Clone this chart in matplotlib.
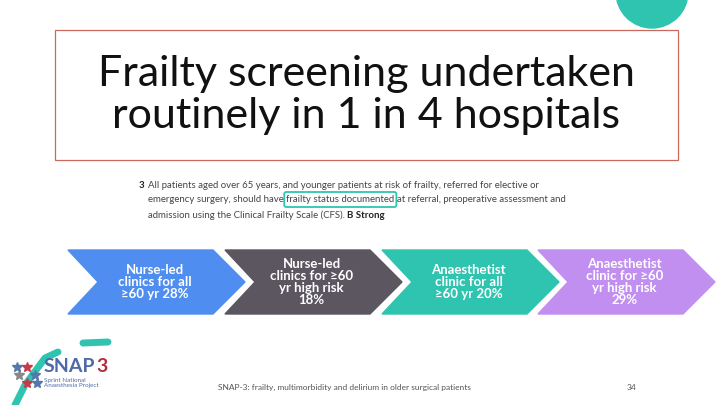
import matplotlib
matplotlib.use("Agg")
import matplotlib.pyplot as plt
from matplotlib.patches import Polygon, Rectangle, Circle, FancyBboxPatch

labels = ["Nurse-led\nclinics for all\n≥60 yr", "Nurse-led\nclinics for ≥60\nyr high risk\n", "Anaesthetist\nclinic for all\n≥60 yr", "Anaesthetist\nclinic for ≥60\nyr high risk\n"]
values = [28, 18, 20, 29]
colors = ["#4f8ef0", "#5b5660", "#2fc4b0", "#c18ff0"]
starts = [68, 225, 382, 538]

fig = plt.figure(figsize=(7.2, 4.05), dpi=100)
ax = fig.add_axes([0, 0, 1, 1])
ax.set_xlim(0, 720); ax.set_ylim(405, 0); ax.axis("off")
r = fig.canvas.get_renderer()

def right_of(t):
    bb = t.get_window_extent(r)
    return bb.x1

ax.add_patch(Circle((652, -8), 36, color="#2fc4b0", zorder=1))
ax.add_patch(Rectangle((55, 30), 623, 130, fill=False, edgecolor="#c96a5c", lw=0.9))
ax.text(366, 95, "Frailty screening undertaken\nroutinely in 1 in 4 hospitals", ha="center", va="center",
        fontsize=31, family="Lato", color="#111111", linespacing=1.15)

fs = 6.9
qf = dict(fontsize=fs, family="Lato", color="#444444", va="center")
ax.text(139, 185, "3", fontsize=fs, family="Lato", color="#222222", va="center", weight="bold")
ax.text(148, 185, "All patients aged over 65 years, and younger patients at risk of frailty, referred for elective or", **qf)
t1 = ax.text(148, 200, "emergency surgery, should have ", **qf)
x1 = right_of(t1)
t2 = ax.text(x1, 200, "frailty status documented", **qf)
x2 = right_of(t2)
ax.text(x2 + 3, 200, "at referral, preoperative assessment and", **qf)
ax.add_patch(FancyBboxPatch((x1 - 2, 192), x2 - x1 + 4, 15, boxstyle="round,pad=0,rounding_size=2", fill=False, edgecolor="#2fc4b0", lw=1.3))
t3 = ax.text(148, 215, "admission using the Clinical Frailty Scale (CFS). ", **qf)
ax.text(right_of(t3), 215, "B Strong", fontsize=fs, family="Lato", color="#222222", va="center", weight="bold")

w, h, n = 177, 64, 30
y0 = 250
for x, lab, v, c in zip(starts, labels, values, colors):
    pts = [(x, y0), (x + w - 32, y0), (x + w, y0 + h / 2), (x + w - 32, y0 + h), (x, y0 + h), (x + n, y0 + h / 2)]
    ax.add_patch(Polygon(pts, closed=True, color=c))
    sep = "" if lab.endswith("\n") else " "
    ax.text(x + w / 2 - 2, y0 + h / 2, f"{lab}{sep}{v}%", ha="center", va="center", color="white",
            fontsize=9.5, family="Lato", weight="bold", linespacing=1.0)

# logo & decoration
ax.plot([83, 108], [343, 342], color="#2fc4b0", lw=5, solid_capstyle="round")
ax.plot([58, 45, 25, 15], [352, 358, 385, 405], color="#2fc4b0", lw=5, solid_capstyle="round")
for dx, dy, cc in [(0, 0, "#c83a4a"), (8, 8, "#5577aa"), (-8, 8, "#888888"), (0, 16, "#c83a4a"), (-10, 0, "#5577aa"), (10, 16, "#5577aa")]:
    ax.plot(27 + dx, 367 + dy, marker="*", color=cc, ms=7)
ts = ax.text(44, 366, "SNAP", fontsize=14, color="#4e6aa8", weight="bold", family="Lato", va="center")
ax.text(right_of(ts) + 1, 366, "3", fontsize=14, color="#b02f3e", weight="bold", family="Lato", va="center")
ax.text(44, 383, "Sprint National\nAnaesthesia Project", fontsize=4.5, color="#4e6aa8", family="Lato", va="center")

ax.text(218, 387, "SNAP-3: frailty, multimorbidity and delirium in older surgical patients", fontsize=6, color="#555555", family="Lato", va="center")
ax.text(627, 387, "34", fontsize=6, color="#555555", family="Lato", va="center")

fig.savefig("out.png", dpi=100)
